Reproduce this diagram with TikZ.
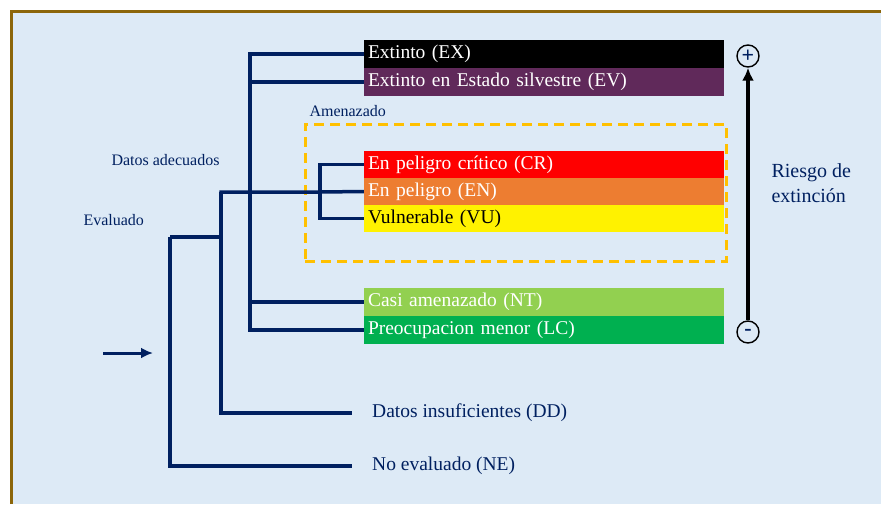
\documentclass[tikz,border=0pt]{standalone}
\usepackage{fontspec}
\setmainfont{Liberation Serif}
\usetikzlibrary{arrows, arrows.meta}

\definecolor{fondo}{RGB}{221,234,246}
\definecolor{marco}{RGB}{140,102,10}
\definecolor{azul}{RGB}{0,32,96}
\definecolor{morado}{RGB}{96,41,90}
\definecolor{naranja}{RGB}{237,125,49}
\definecolor{verdeclaro}{RGB}{146,208,80}
\definecolor{verde}{RGB}{0,176,80}
\definecolor{ambar}{RGB}{255,192,0}

\begin{document}
\begin{tikzpicture}[x=1pt,y=-1pt,node distance=28pt]
\tikzstyle{categoria} = [rectangle, minimum width=360pt, minimum height=28pt, text width=352pt, inner xsep=4pt, inner ysep=0pt, text=white, font=\fontsize{19.5}{21}\selectfont]
\tikzstyle{texto} = [anchor=west, inner xsep=20pt, text=azul, font=\fontsize{19.5}{21}\selectfont]
\tikzstyle{etiqueta} = [anchor=west, text=azul, font=\fontsize{16}{18}\selectfont]
\tikzstyle{rama} = [azul, line width=3.5pt]
\tikzstyle{signo} = [circle, draw=black, line width=1.4pt, minimum size=22pt, inner sep=0pt, text=azul, font=\bfseries\fontsize{22}{22}\selectfont]

\useasboundingbox (0,0) rectangle (881,504);
\fill[fondo] (11.5,11.5) rectangle (881,504);
\draw[marco, line width=3pt] (11.5,504) -- (11.5,11.5) -- (881,11.5);

% categorias
\node (ex) [categoria, fill=black] at (544,54) {Extinto (EX)};
\node (ev) [categoria, fill=morado, below of=ex] {Extinto en Estado silvestre (EV)};
\node (amenaza) [draw=ambar, line width=3pt, dash pattern=on 10pt off 6pt, minimum width=421pt, minimum height=137pt] at (515.5,192.5) {};
\node (amenazado) [etiqueta] at (306,111) {Amenazado};
\node (cr) [categoria, fill=red, minimum height=27pt] at (544,164.5) {En peligro crítico (CR)};
\node (en) [categoria, fill=naranja, minimum height=27pt, below of=cr, node distance=27pt] {En peligro (EN)};
\node (vu) [categoria, fill=yellow, minimum height=27pt, below of=en, node distance=27pt, text=black] {Vulnerable (VU)};
\node (nt) [categoria, fill=verdeclaro] at (544,302) {Casi amenazado (NT)};
\node (lc) [categoria, fill=verde, below of=nt] {Preocupacion menor (LC)};
\node (dd) [texto] at (352,413) {Datos insuficientes (DD)};
\node (ne) [texto] at (352,466) {No evaluado (NE)};

\node (adecuados) [etiqueta] at (108,160) {Datos adecuados};
\node (evaluado) [etiqueta] at (80,220) {Evaluado};

% arbol
\coordinate (raiz) at (170,237);
\coordinate (evalua) at (221,237);
\coordinate (datos) at (221,192);
\coordinate (tronco) at (250,192);
\coordinate (amen) at (320,192);
\draw[rama] (raiz) -- (evalua);
\draw[rama] (raiz) |- (ne.west);
\draw[rama] (datos) |- (dd.west);
\draw[rama] (evalua) -- (datos) -- (amen) -- (en.west);
\draw[rama] (amen) |- (cr.west);
\draw[rama] (amen) |- (vu.west);
\draw[rama] (tronco) |- (ex.west);
\draw[rama] (tronco) |- (ev.west);
\draw[rama] (tronco) |- (nt.west);
\draw[rama] (tronco) |- (lc.west);

\coordinate (entrada) at (103,353);
\coordinate (entrada fin) at (153,353);
\draw[rama, line width=3pt, -{Latex[length=12pt,width=11pt]}] (entrada) -- (entrada fin);

% riesgo
\node (mas) [signo] at (748,56) {+};
\node (menos) [signo] at (748,332) {-};
\draw[line width=3.5pt, -{Latex[length=13pt,width=12pt]}] (menos) -- (mas);
\node (riesgo) [anchor=west, align=left, text=azul, font=\fontsize{20}{25}\selectfont] at (768,183) {Riesgo de\\extinción};
\end{tikzpicture}
\end{document}
